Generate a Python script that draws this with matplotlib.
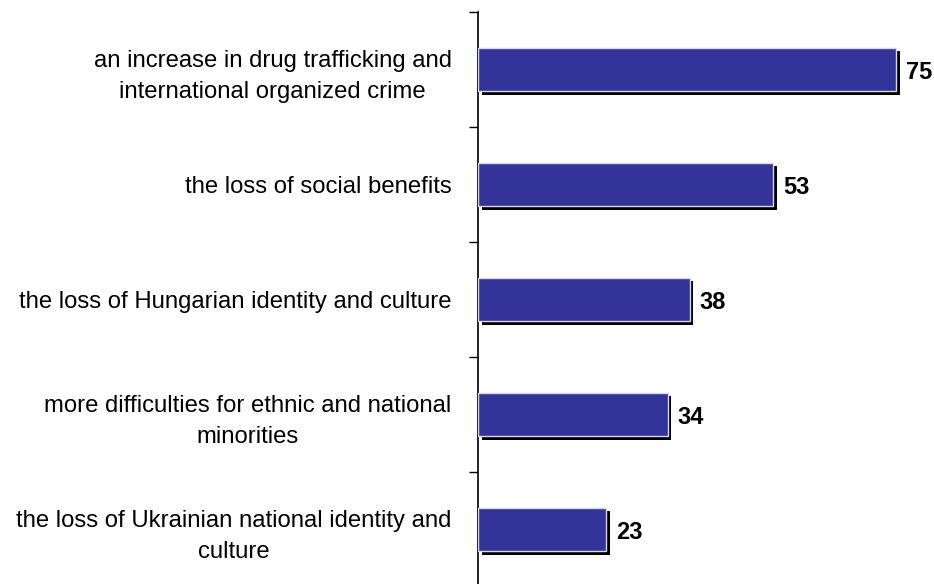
import matplotlib
matplotlib.use("Agg")
import matplotlib.pyplot as plt
import matplotlib.patheffects as pe
import numpy as np

categories = [
    "an increase in drug trafficking and\ninternational organized crime",
    "the loss of social benefits",
    "the loss of Hungarian identity and culture",
    "more difficulties for ethnic and national\nminorities",
    "the loss of Ukrainian national identity and\nculture",
]
values = [75, 53, 38, 34, 23]

plt.rcParams["font.family"] = ["Liberation Sans", "DejaVu Sans"]

fig = plt.figure(figsize=(9.34, 5.84), dpi=100)
ax = fig.add_axes([478 / 934, -3 / 584, (934 - 478) / 934, 575 / 584])

y = np.arange(len(categories))
bars = ax.barh(y, values, height=0.38, color="#333399",
               edgecolor="#d8d8e4", linewidth=1.0, zorder=3)
for b in bars:
    b.set_path_effects([
        pe.SimplePatchShadow(offset=(2.6, -2.6), shadow_rgbFace="black", alpha=1.0),
        pe.Normal(),
    ])

for yi, v in zip(y, values):
    ax.annotate(f"{v}", xy=(v, yi), xytext=(7, -2.5), textcoords="offset points",
                ha="left", va="center", fontsize=17, fontweight="bold", color="black")

ax.set_xlim(0, 81.8)
ax.set_ylim(len(categories) - 0.5, -0.5)

ax.set_yticks(np.arange(-0.5, len(categories) + 0.5, 1.0))
ax.set_yticklabels([])
ax.tick_params(axis="y", which="major", direction="out", length=6.5, width=1.0, color="black")
ax.set_yticks(y, minor=True)
ax.set_yticklabels(categories, minor=True, fontsize=17.2, multialignment="center",
                   linespacing=1.55)
ax.tick_params(axis="y", which="minor", length=0, pad=19)

ax.set_xticks([])
for side in ("top", "right", "bottom"):
    ax.spines[side].set_visible(False)
ax.spines["left"].set_linewidth(1.2)

fig.savefig("out.png", dpi=100)
